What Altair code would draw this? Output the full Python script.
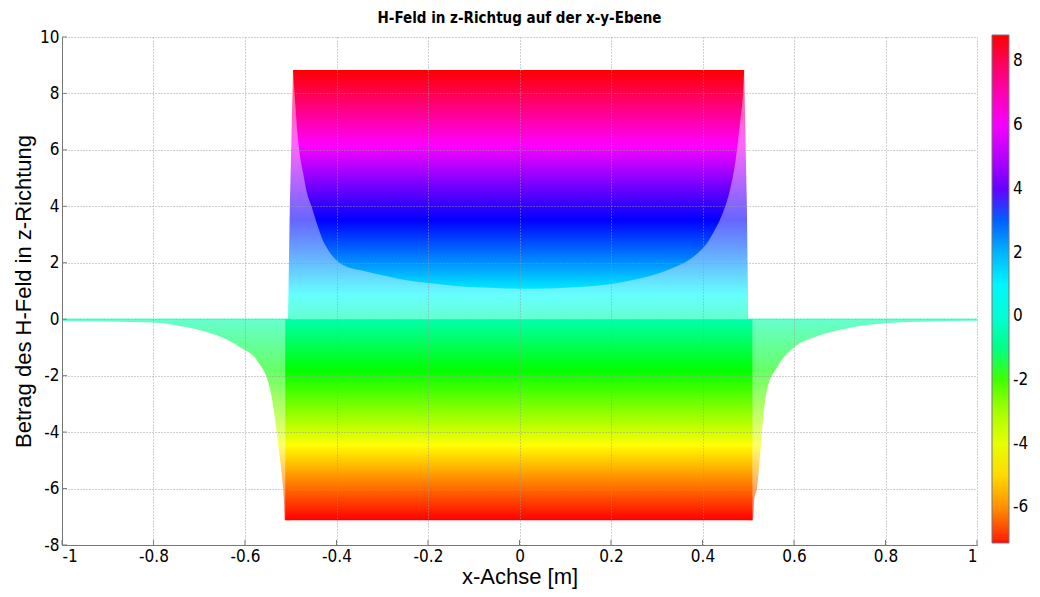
import altair as alt
import pandas as pd

# ---- colour map (MATLAB hsv) ----
V_MIN, V_MAX = -7.12, 8.83
HSV_HEX = ["#ff0000", "#ffff00", "#00ff00", "#00ffff", "#0000ff", "#ff00ff", "#ff0000"]
CBAR_TICKS = [-6, -4, -2, 0, 2, 4, 6, 8]

# ---- data ----
# lower envelope of the dense upper part (U-shaped curve)
u_x = [-0.495, -0.49, -0.484, -0.478, -0.473, -0.465, -0.454, -0.443, -0.43, -0.42,
       -0.408, -0.395, -0.38, -0.35, -0.32, -0.26, -0.20, -0.14, -0.08, 0.0, 0.08, 0.14,
       0.20, 0.248, 0.30, 0.34, 0.366, 0.39, 0.41, 0.423, 0.445, 0.46, 0.472, 0.482,
       0.488, 0.491]
u_y = [8.83, 7.6, 6.35, 5.6, 5.18, 4.5, 3.97, 3.4, 2.8, 2.5,
       2.22, 2.02, 1.88, 1.74, 1.63, 1.42, 1.28, 1.18, 1.12, 1.08, 1.1, 1.15,
       1.25, 1.39, 1.6, 1.85, 2.05, 2.35, 2.7, 3.05, 3.8, 4.58, 5.6, 6.95,
       7.9, 8.83]

# outline of the light upper block (from 0 up to the top)
lb_x = [-0.506, -0.502, -0.495, 0.491, 0.497, 0.50]
lb_top = [0.0, 4.0, 8.83, 8.83, 4.0, 0.0]

# dense lower block
blk_x, blk_x2, blk_y, blk_y2 = [-0.512], [0.509], [-7.12], [0.0]

# tails outside the magnet (lower edge)
lt_x = [-1.0, -0.9, -0.8, -0.75, -0.698, -0.65, -0.611, -0.574, -0.545, -0.535,
        -0.528, -0.519, -0.515, -0.513, -0.50]
lt_y = [-0.06, -0.08, -0.12, -0.22, -0.39, -0.65, -0.99, -1.45, -2.5, -3.46,
        -4.39, -5.6, -6.4, -7.12, -7.12]
rt_x = [0.50, 0.51, 0.513, 0.519, 0.525, 0.53, 0.541, 0.563, 0.6, 0.65, 0.7, 0.75, 0.8, 0.9, 1.0]
rt_y = [-7.12, -7.12, -6.4, -6.0, -5.0, -3.97, -2.5, -1.7, -1.0, -0.6, -0.38, -0.22, -0.14, -0.08, -0.05]
TAIL_TOP = 0.03

x_ticks = [-1, -0.8, -0.6, -0.4, -0.2, 0, 0.2, 0.4, 0.6, 0.8, 1]
y_ticks = [-8, -6, -4, -2, 0, 2, 4, 6, 8, 10]

FONT = "DejaVu Sans Condensed, Liberation Sans Narrow, Liberation Sans, Arial"
FONT_R = "Liberation Sans, Arial"
W, H = 915, 508

def _rgb(h):
    return [int(h[i:i + 2], 16) for i in (1, 3, 5)]

def hsv_color(v):
    t = (v - V_MIN) / (V_MAX - V_MIN) * 6
    t = min(max(t, 0.0), 6.0)
    k = min(int(t), 5)
    f = t - k
    a, b = _rgb(HSV_HEX[k]), _rgb(HSV_HEX[k + 1])
    return "#%02x%02x%02x" % tuple(round(a[i] + (b[i] - a[i]) * f) for i in range(3))

BREAKS = [V_MIN + k * (V_MAX - V_MIN) / 6 for k in range(7)]

def vgrad(lo, hi):
    vals = [lo, hi] + [b for b in BREAKS if lo < b < hi]
    stops = sorted(((hi - v) / (hi - lo), hsv_color(v)) for v in vals)
    return alt.Gradient(gradient="linear", x1=0, x2=0, y1=0, y2=1,
                        stops=[alt.GradientStop(offset=o, color=c) for o, c in stops])

xs = alt.Scale(domain=[-1, 1], nice=False, zero=False)
ys = alt.Scale(domain=[-8, 10], nice=False, zero=False)

x_axis = alt.Axis(values=x_ticks, labelExpr="datum.value + ''", title="x-Achse [m]",
                  grid=True, ticks=False, zindex=1)
y_axis = alt.Axis(values=y_ticks, labelExpr="datum.value + ''",
                  title="Betrag des H-Feld in z-Richtung", grid=True, ticks=False, zindex=1)

light_df = pd.DataFrame({"x": lb_x, "top": lb_top, "base": [0.0] * len(lb_x)})
light = alt.Chart(light_df).mark_area(color=vgrad(0.0, 8.83), opacity=0.6).encode(
    x=alt.X("x:Q", scale=xs, axis=x_axis),
    y=alt.Y("base:Q", scale=ys, axis=y_axis),
    y2="top:Q",
)

tails_df = pd.concat([
    pd.DataFrame({"x": lt_x, "low": lt_y, "side": "L"}),
    pd.DataFrame({"x": rt_x, "low": rt_y, "side": "R"}),
])
tails_df["top"] = TAIL_TOP
tails = alt.Chart(tails_df).mark_area(color=vgrad(-7.12, TAIL_TOP), opacity=0.6,
                                      interpolate="monotone").encode(
    x=alt.X("x:Q", scale=xs), y=alt.Y("low:Q", scale=ys), y2="top:Q", detail="side:N")

blk_df = pd.DataFrame({"x": blk_x, "x2": blk_x2, "y": blk_y, "y2": blk_y2})
block = alt.Chart(blk_df).mark_rect(color=vgrad(-7.12, 0.0)).encode(
    x=alt.X("x:Q", scale=xs), x2="x2:Q", y=alt.Y("y:Q", scale=ys), y2="y2:Q")

u_df = pd.DataFrame({"x": u_x, "low": u_y, "top": [8.83] * len(u_x)})
upper = alt.Chart(u_df).mark_area(color=vgrad(min(u_y), 8.83), interpolate="monotone").encode(
    x=alt.X("x:Q", scale=xs), y=alt.Y("low:Q", scale=ys), y2="top:Q")

# inward ticks
xt = alt.Chart(pd.DataFrame({"x": x_ticks})).mark_rule(color="#777", strokeWidth=1).encode(
    x=alt.X("x:Q", scale=xs), y=alt.value(H), y2=alt.value(H - 5))
yt = alt.Chart(pd.DataFrame({"y": y_ticks})).mark_rule(color="#777", strokeWidth=1).encode(
    y=alt.Y("y:Q", scale=ys), x=alt.value(0), x2=alt.value(5))

# colour bar (legend)
cb_df = pd.DataFrame({"v": [V_MIN, V_MAX]})
cbar = alt.Chart(cb_df).mark_point(opacity=0).encode(
    x=alt.value(0), y=alt.value(0),
    color=alt.Color("v:Q", scale=alt.Scale(domain=BREAKS, range=HSV_HEX),
                    legend=alt.Legend(title=None, orient="none", legendX=930, legendY=-2,
                                      direction="vertical", gradientLength=508,
                                      gradientThickness=17, values=CBAR_TICKS,
                                      labelExpr="datum.value + ''", labelFontSize=17,
                                      labelFont=FONT, labelColor="black", labelOffset=4,
                                      gradientStrokeColor="#777", gradientStrokeWidth=1,
                                      padding=0)))

chart = alt.layer(light, tails, block, upper, xt, yt, cbar).properties(
    width=W, height=H,
    title=alt.TitleParams("H-Feld in z-Richtug auf der x-y-Ebene", fontSize=15,
                          fontWeight="bold", font=FONT, color="black", offset=2),
    autosize=alt.AutoSizeParams(type="none"),
    padding={"left": 54, "top": 29, "right": 55, "bottom": 44},
).configure_view(stroke=None).configure_axis(
    labelFont=FONT, labelFontSize=17, labelColor="black", labelPadding=3,
    titleFont=FONT_R, titleFontSize=22, titleFontWeight="normal", titleColor="black",
    domainColor="#777", gridColor="#999", gridDash=[1, 2], gridOpacity=0.9,
).configure_axisY(titlePadding=4).configure_axisX(titlePadding=2)

chart.save("out.html", embed_options={"renderer": "svg", "actions": False})
